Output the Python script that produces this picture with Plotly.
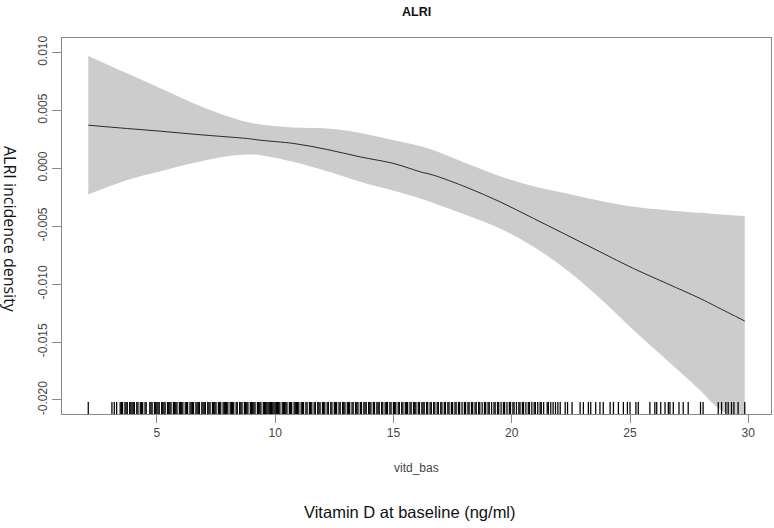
import plotly.graph_objects as go

# ---- data ----
x_grid = [2.10, 3.76, 5.17, 6.57, 7.98, 8.82, 9.39, 10.79, 12.2, 13.6, 15.02, 16.14,
          16.70, 18.11, 19.51, 20.92, 22.33, 23.73, 25.14, 26.55, 27.95, 28.66, 29.85]
fit = [0.00373, 0.00344, 0.00321, 0.00295, 0.00272, 0.00258, 0.00243, 0.00215, 0.00163,
       0.00099, 0.00042, -0.0003, -0.00059, -0.00165, -0.00289, -0.00432, -0.00576,
       -0.0072, -0.00864, -0.00993, -0.01122, -0.01195, -0.01318]
upper = [0.00971, 0.00819, 0.00689, 0.0056, 0.0045, 0.0040, 0.00379, 0.00353, 0.00344,
         0.00306, 0.00243, 0.00191, 0.00157, 0.00042, -0.00067, -0.00154, -0.00217,
         -0.0028, -0.00332, -0.00361, -0.00384, -0.00395, -0.00412]
lower = [-0.00225, -0.0010, -0.00024, 0.00048, 0.00105, 0.0012, 0.00114, 0.00056,
         -0.00024, -0.00116, -0.00194, -0.0026, -0.0030, -0.00404, -0.00519, -0.00677,
         -0.00878, -0.01122, -0.01396, -0.01655, -0.01914, -0.02058, -0.0222]

rug_x = [2.1, 3.1, 3.2, 3.3,
         3.45, 3.5, 3.55, 3.65, 3.7, 3.75, 3.85, 3.9, 3.95,
         4.0, 4.05, 4.15, 4.2, 4.3, 4.35, 4.4, 4.5, 4.55, 4.7, 4.75, 4.8, 4.9, 4.95,
         5.0, 5.05, 5.1, 5.2, 5.25, 5.3, 5.35, 5.45, 5.5, 5.55, 5.6, 5.7, 5.75, 5.8, 5.85, 5.95,
         6.0, 6.05, 6.1, 6.2, 6.25, 6.3, 6.4, 6.45, 6.5, 6.55, 6.65, 6.7, 6.75, 6.8, 6.9, 6.95,
         7.0, 7.05, 7.15, 7.2, 7.25, 7.35, 7.4, 7.45, 7.5, 7.6, 7.65, 7.7, 7.8, 7.85, 7.9, 7.95,
         8.0, 8.1, 8.15, 8.2, 8.25, 8.35, 8.4, 8.5, 8.55, 8.6, 8.7, 8.75, 8.8, 8.85, 8.95,
         9.0, 9.05, 9.1, 9.15, 9.25, 9.3, 9.35, 9.4, 9.5, 9.55, 9.6, 9.65, 9.7, 9.75, 9.8,
         9.85, 9.9, 9.95,
         10.0, 10.05, 10.1, 10.15, 10.2, 10.3, 10.35, 10.4, 10.45, 10.5, 10.6, 10.65, 10.7,
         10.8, 10.85, 10.9, 10.95,
         11.0, 11.1, 11.15, 11.2, 11.3, 11.35, 11.45, 11.5, 11.55, 11.65, 11.7, 11.8, 11.85, 11.9,
         12.0, 12.05, 12.1, 12.2, 12.25, 12.35, 12.4, 12.5, 12.55, 12.6, 12.7, 12.75, 12.85,
         12.9, 12.95,
         13.05, 13.1, 13.15, 13.25, 13.3, 13.4, 13.45, 13.5, 13.6, 13.65, 13.75, 13.8, 13.85, 13.95,
         14.0, 14.05, 14.15, 14.2, 14.3, 14.35, 14.4, 14.5, 14.55, 14.65, 14.7, 14.75, 14.85, 14.9,
         15.0, 15.05, 15.1, 15.2, 15.25, 15.35, 15.4, 15.5, 15.55, 15.6, 15.7, 15.75, 15.85,
         15.9, 15.95,
         16.05, 16.1, 16.2, 16.25, 16.3, 16.4, 16.45, 16.55, 16.6, 16.7, 16.75, 16.85, 16.9,
         17.0, 17.05, 17.15, 17.2, 17.3, 17.35, 17.45, 17.5, 17.6, 17.65, 17.75, 17.8, 17.9,
         18.0, 18.05, 18.15, 18.2, 18.3, 18.35, 18.45, 18.5, 18.6, 18.65, 18.75, 18.85, 18.9,
         19.0, 19.05, 19.15, 19.25, 19.3, 19.4, 19.45, 19.55, 19.65, 19.7, 19.8, 19.9, 19.95,
         20.05, 20.1, 20.2, 20.3, 20.35, 20.45, 20.5, 20.6, 20.7, 20.75, 20.85, 20.95,
         21.0, 21.1, 21.2, 21.25, 21.35, 21.5, 21.55, 21.65, 21.75, 21.85, 21.95, 22.05,
         22.26, 22.36, 22.55, 22.89, 23.03, 23.24, 23.34, 23.55, 23.73, 23.87, 24.16,
         24.30, 24.51, 24.72, 24.89, 25.0, 25.25, 25.35, 25.84, 26.05, 26.13, 26.30,
         26.48, 26.62, 26.69, 26.83, 27.07, 27.25, 27.46, 27.98, 28.09, 28.73, 28.87,
         29.05, 29.15, 29.29, 29.39, 29.57, 29.85]

x_ticks = [5, 10, 15, 20, 25, 30]
y_ticks = [-0.020, -0.015, -0.010, -0.005, 0.000, 0.005, 0.010]
y_ticktext = ["-0.020", "-0.015", "-0.010", "-0.005", "0.000", "0.005", "0.010"]

title_text = "ALRI"
x_var = "vitd_bas"
x_label = "Vitamin D at baseline (ng/ml)"
y_label = "ALRI incidence density"

NARROW = "Liberation Sans Narrow, Arial Narrow, Liberation Sans, Arial, sans-serif"

fig = go.Figure()
fig.add_trace(go.Scatter(x=x_grid, y=lower, mode="lines", line=dict(width=0, shape="spline"),
                         hoverinfo="skip"))
fig.add_trace(go.Scatter(x=x_grid, y=upper, mode="lines", line=dict(width=0, shape="spline"),
                         fill="tonexty", fillcolor="#cccccc", hoverinfo="skip"))
fig.add_trace(go.Scatter(x=x_grid, y=fit, mode="lines",
                         line=dict(color="#2a2a2a", width=1, shape="spline")))

# rug
rx, ry = [], []
for v in rug_x:
    rx += [v, v, None]
    ry += [0, 0.032, None]
fig.add_trace(go.Scatter(x=rx, y=ry, mode="lines", yaxis="y2",
                         line=dict(color="#000000", width=1.25), hoverinfo="skip"))

axis_common = dict(showgrid=False, zeroline=False, showline=True, mirror=True,
                   linecolor="#888888", linewidth=1, ticks="outside",
                   tickcolor="#888888", tickwidth=1, automargin=False,
                   tickfont=dict(family=NARROW, size=12, color="#444444"))

fig.update_layout(
    width=774, height=528,
    margin=dict(l=62, r=3, t=38, b=114),
    plot_bgcolor="white", paper_bgcolor="white",
    showlegend=False,
    xaxis=dict(range=[0.99, 30.96], tickvals=x_ticks, ticklen=8, **axis_common),
    yaxis=dict(range=[-0.02121, 0.01126], tickvals=y_ticks, ticktext=y_ticktext,
               tickangle=-90, ticklen=9, **axis_common),
    yaxis2=dict(overlaying="y", range=[0, 1], visible=False),
    annotations=[
        dict(text="<b>" + title_text + "</b>", xref="paper", yref="paper", x=0.5, y=1,
             yanchor="middle", yshift=26.5, showarrow=False,
             font=dict(family=NARROW, size=12.5, color="#111111")),
        dict(text=x_var, xref="paper", yref="paper", x=0.5, y=0,
             yanchor="middle", yshift=-54, showarrow=False,
             font=dict(family=NARROW, size=12, color="#444444")),
        dict(text=x_label, xref="paper", yref="paper", x=0.491, y=0,
             yanchor="middle", yshift=-98, showarrow=False,
             font=dict(family="Liberation Sans, Arial, sans-serif", size=16.5, color="#111111")),
        dict(text=y_label, xref="paper", yref="paper", x=-0.0733, y=0.492,
             xanchor="center", yanchor="middle", textangle=90, showarrow=False,
             font=dict(family="Open Sans, Liberation Sans, sans-serif", size=16, color="#111111")),
    ],
)

# remove the browser's default 8px body margin so the figure sits at the page origin
fig.write_html("out.html", config={"displayModeBar": False},
               post_script="document.body.style.margin='0px';")
